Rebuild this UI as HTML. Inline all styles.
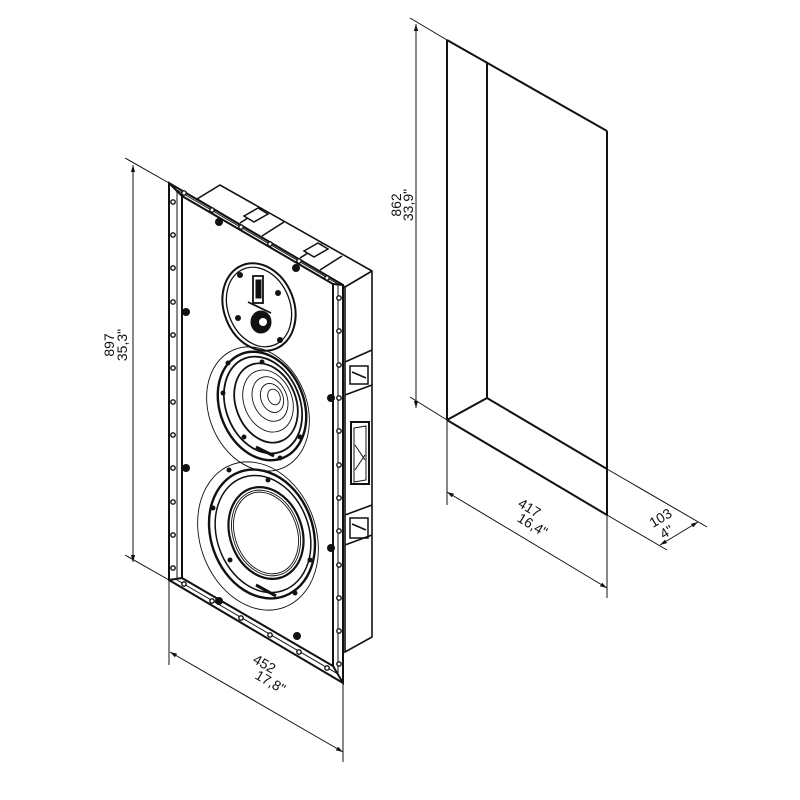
<!DOCTYPE html>
<html><head><meta charset="utf-8"><style>html,body{margin:0;padding:0;background:#fff}svg{display:block}text{font-family:"Liberation Sans",sans-serif;font-size:14px;fill:#111}</style></head>
<body>
<svg width="800" height="800" viewBox="0 0 800 800" xmlns="http://www.w3.org/2000/svg">
<defs>
<marker id="a" viewBox="0 0 10 10" refX="10" refY="5" markerWidth="7" markerHeight="7" orient="auto-start-reverse"><path d="M0,2 L10,5 L0,8 z" fill="#111"/></marker>
</defs>
<rect width="800" height="800" fill="#fff"/>
<!-- ===== Right: wall cut-out ===== -->
<g stroke="#111" fill="none">
<g stroke-width="2">
<line x1="447" y1="40" x2="607" y2="131"/>
<line x1="447" y1="40" x2="447" y2="420"/>
<line x1="487" y1="62" x2="487" y2="398"/>
<line x1="607" y1="131" x2="607" y2="515"/>
<line x1="447" y1="420" x2="487" y2="398"/>
<line x1="487" y1="398" x2="607" y2="469"/>
<line x1="447" y1="420" x2="607" y2="515"/>
</g>
<g stroke-width="1">
<line x1="607" y1="515" x2="607" y2="598"/>
<line x1="410" y1="18" x2="447" y2="40"/>
<line x1="410" y1="397" x2="447" y2="420"/>
<line x1="416" y1="24" x2="416" y2="408" marker-start="url(#a)" marker-end="url(#a)"/>
<line x1="447" y1="420" x2="447" y2="505"/>
<line x1="447" y1="492" x2="607" y2="588" marker-start="url(#a)" marker-end="url(#a)"/>
<line x1="607" y1="469" x2="707" y2="527"/>
<line x1="607" y1="515" x2="667" y2="550"/>
<line x1="660" y1="545" x2="698" y2="522" marker-start="url(#a)" marker-end="url(#a)"/>
</g>
</g>
<text transform="translate(401,205) rotate(-90)" text-anchor="middle">862</text>
<text transform="translate(413,205) rotate(-90)" text-anchor="middle">33,9"</text>
<text transform="translate(527,512) rotate(31)" text-anchor="middle">417</text>
<text transform="translate(530,529) rotate(31)" text-anchor="middle">16,4"</text>
<text transform="translate(663,522) rotate(-31)" text-anchor="middle">103</text>
<text transform="translate(669,536) rotate(-31)" text-anchor="middle">4"</text>

<!-- ===== Left: speaker ===== -->
<g stroke="#111" fill="none" stroke-width="1">
<line x1="125" y1="158" x2="169" y2="183"/>
<line x1="125" y1="555" x2="169" y2="580"/>
<line x1="133" y1="165" x2="133" y2="562" marker-start="url(#a)" marker-end="url(#a)"/>
<line x1="169" y1="580" x2="169" y2="665"/>
<line x1="343" y1="683" x2="343" y2="762"/>
<line x1="170" y1="652" x2="343" y2="752" marker-start="url(#a)" marker-end="url(#a)"/>
</g>
<text transform="translate(114,345) rotate(-90)" text-anchor="middle">897</text>
<text transform="translate(127,345) rotate(-90)" text-anchor="middle">35,3"</text>
<text transform="translate(262,668) rotate(30)" text-anchor="middle">452</text>
<text transform="translate(268,686) rotate(30)" text-anchor="middle">17,8"</text>

<!-- back box -->
<g stroke="#111" fill="#fff" stroke-width="1.6">
<polygon points="197,199 220,185 372,271 372,637 345,652 345,287"/>
<line x1="345" y1="287" x2="372" y2="271"/>
<!-- top block dividers -->
<line x1="240" y1="223" x2="262" y2="209"/>
<line x1="262" y1="236" x2="284" y2="222"/>
<line x1="300" y1="258" x2="322" y2="244"/>
<line x1="320" y1="270" x2="342" y2="256"/>
<line x1="345" y1="362" x2="372" y2="350"/>
<line x1="345" y1="395" x2="372" y2="385"/>
<line x1="345" y1="515" x2="372" y2="505"/>
<line x1="345" y1="545" x2="372" y2="535"/>
<rect x="351" y="422" width="18" height="62" stroke-width="2"/>
<polygon points="354,428 366,426 366,480 354,482" stroke-width="1"/>
<line x1="355" y1="445" x2="365" y2="460" stroke-width="1"/>
<line x1="355" y1="470" x2="365" y2="455" stroke-width="1"/>
</g>
<g stroke="#111" fill="none" stroke-width="1.5">
<rect x="350" y="366" width="18" height="18"/><line x1="352" y1="372" x2="366" y2="378"/>
<rect x="350" y="518" width="18" height="20"/><line x1="352" y1="524" x2="366" y2="530"/>
<polygon points="244,216 258,208 268,214 254,222" fill="#fff"/>
<polygon points="304,251 318,243 328,249 314,257" fill="#fff"/>
</g>

<!-- front frame -->
<g stroke="#111" stroke-width="2">
<polygon points="169,183 343,285 343,683 169,580" fill="#fff"/>
<polygon points="182,196 333,284 333,666 182,578" fill="#fff"/>
<polyline points="177,190 338,284 338,674 177,580 177,190" fill="none" stroke-width="1"/>
<line x1="169" y1="183" x2="182" y2="196"/><line x1="343" y1="285" x2="333" y2="284"/>
<line x1="343" y1="683" x2="333" y2="666"/><line x1="169" y1="580" x2="182" y2="578"/>
</g>
<g fill="#fff" stroke="#111" stroke-width="1.4">
<circle cx="173" cy="235" r="2.2"/><circle cx="173" cy="268" r="2.2"/><circle cx="173" cy="302" r="2.2"/><circle cx="173" cy="335" r="2.2"/><circle cx="173" cy="368" r="2.2"/><circle cx="173" cy="402" r="2.2"/><circle cx="173" cy="435" r="2.2"/><circle cx="173" cy="468" r="2.2"/><circle cx="173" cy="502" r="2.2"/><circle cx="173" cy="535" r="2.2"/><circle cx="173" cy="568" r="2.2"/><circle cx="173" cy="202" r="2.2"/>
<circle cx="339" cy="298" r="2.2"/><circle cx="339" cy="331" r="2.2"/><circle cx="339" cy="365" r="2.2"/><circle cx="339" cy="398" r="2.2"/><circle cx="339" cy="431" r="2.2"/><circle cx="339" cy="465" r="2.2"/><circle cx="339" cy="498" r="2.2"/><circle cx="339" cy="531" r="2.2"/><circle cx="339" cy="565" r="2.2"/><circle cx="339" cy="598" r="2.2"/><circle cx="339" cy="631" r="2.2"/><circle cx="339" cy="664" r="2.2"/>
<circle cx="184" cy="193" r="2.2"/><circle cx="212" cy="210" r="2.2"/><circle cx="241" cy="227" r="2.2"/><circle cx="270" cy="244" r="2.2"/><circle cx="299" cy="261" r="2.2"/><circle cx="327" cy="278" r="2.2"/>
<circle cx="184" cy="584" r="2.2"/><circle cx="212" cy="601" r="2.2"/><circle cx="241" cy="618" r="2.2"/><circle cx="270" cy="635" r="2.2"/><circle cx="299" cy="652" r="2.2"/><circle cx="327" cy="668" r="2.2"/>
</g>
<g fill="#111">
<circle cx="219" cy="222" r="4"/><circle cx="296" cy="268" r="4"/><circle cx="186" cy="312" r="4"/><circle cx="186" cy="468" r="4"/>
<circle cx="331" cy="398" r="4"/><circle cx="331" cy="548" r="4"/><circle cx="219" cy="601" r="4"/><circle cx="297" cy="636" r="4"/>
</g>

<!-- tweeter -->
<g stroke="#111" fill="none">
<ellipse cx="259" cy="307" rx="35" ry="45" transform="rotate(-22 259 307)" stroke-width="2"/>
<ellipse cx="259" cy="307" rx="31" ry="41" transform="rotate(-22 259 307)" stroke-width="1.3"/>
<rect x="253" y="276" width="10" height="27" stroke-width="1.8"/>
<rect x="256" y="280" width="5" height="18" fill="#111"/>
<line x1="248" y1="302" x2="271" y2="313" stroke-width="1.8"/>
<ellipse cx="261" cy="322" rx="10" ry="11" fill="#111"/>
<circle cx="263" cy="322" r="4" fill="#fff" stroke="none"/>
</g>
<g fill="#111"><circle cx="240" cy="275" r="3"/><circle cx="278" cy="293" r="3"/><circle cx="238" cy="318" r="3"/><circle cx="280" cy="340" r="3"/></g>

<!-- mid -->
<g stroke="#111" fill="none">
<ellipse cx="258" cy="409" rx="49" ry="64" transform="rotate(-22 258 409)" stroke-width="0.9"/>
<ellipse cx="262" cy="406" rx="42" ry="56" transform="rotate(-22 262 406)" stroke-width="2.4"/>
<ellipse cx="263" cy="405" rx="37" ry="50" transform="rotate(-22 263 405)" stroke-width="1.8"/>
<ellipse cx="266" cy="403" rx="30" ry="41" transform="rotate(-22 266 403)" stroke-width="1.8"/>
<ellipse cx="268" cy="401" rx="24" ry="32" transform="rotate(-22 268 401)" stroke-width="0.9"/>
<ellipse cx="270" cy="399" rx="17" ry="23" transform="rotate(-22 270 399)" stroke-width="0.9"/>
<ellipse cx="272" cy="398" rx="11" ry="15" transform="rotate(-22 272 398)" stroke-width="0.9"/>
<ellipse cx="274" cy="397" rx="6" ry="8" transform="rotate(-22 274 397)" stroke-width="0.9"/>
<line x1="256" y1="447" x2="274" y2="456" stroke-width="3"/>
</g>
<g fill="#111"><circle cx="228" cy="363" r="2.5"/><circle cx="262" cy="362" r="2.5"/><circle cx="300" cy="437" r="2.5"/><circle cx="244" cy="437" r="2.5"/><circle cx="280" cy="458" r="2.5"/><circle cx="223" cy="393" r="2.5"/></g>

<!-- woofer -->
<g stroke="#111" fill="none">
<ellipse cx="258" cy="536" rx="58" ry="76" transform="rotate(-20 258 536)" stroke-width="0.9"/>
<ellipse cx="262" cy="534" rx="51" ry="66" transform="rotate(-20 262 534)" stroke-width="2.4"/>
<ellipse cx="263" cy="534" rx="46" ry="60" transform="rotate(-20 263 534)" stroke-width="1.5"/>
<ellipse cx="266" cy="533" rx="36" ry="47" transform="rotate(-20 266 533)" stroke-width="2.2"/>
<ellipse cx="266" cy="533" rx="33" ry="44" transform="rotate(-20 266 533)" stroke-width="0.9"/>
<ellipse cx="266" cy="533" rx="31" ry="42" transform="rotate(-20 266 533)" stroke-width="0.9"/>
<line x1="256" y1="585" x2="276" y2="596" stroke-width="3"/>
</g>
<g fill="#111"><circle cx="229" cy="470" r="2.5"/><circle cx="213" cy="508" r="2.5"/><circle cx="230" cy="560" r="2.5"/><circle cx="295" cy="593" r="2.5"/><circle cx="268" cy="480" r="2.5"/><circle cx="310" cy="560" r="2.5"/></g>
</svg>
</body></html>
